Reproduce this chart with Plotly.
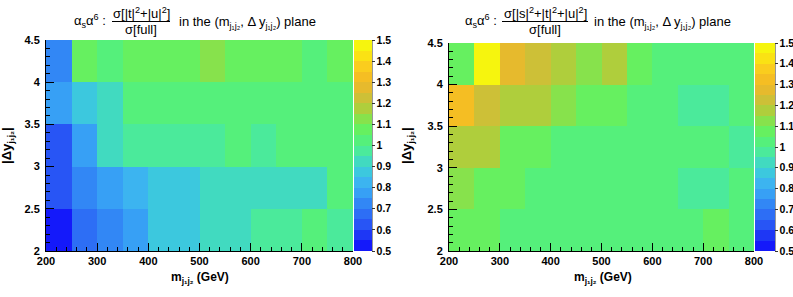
import plotly.graph_objects as go

# ---------------- data ----------------
mjj_edges = [200, 250, 300, 350, 400, 450, 500, 550, 600, 650, 700, 750, 800]
dy_edges = [2.0, 2.5, 3.0, 3.5, 4.0, 4.5]

# rows: |dy| bins from 2-2.5 (bottom) to 4-4.5 (top); columns: mjj bins 200..800
ratio_tu = [
    [0.52, 0.67, 0.72, 0.78, 0.87, 0.87, 0.92, 0.92, 0.97, 0.97, 1.04, 0.97],
    [0.62, 0.72, 0.78, 0.83, 0.88, 0.88, 0.93, 0.93, 0.93, 0.93, 0.93, 1.02],
    [0.64, 0.78, 0.93, 0.97, 0.97, 0.97, 0.97, 1.02, 0.97, 1.02, 1.02, 1.02],
    [0.78, 0.87, 0.93, 1.02, 1.02, 1.02, 1.02, 1.02, 1.02, 1.02, 1.02, 1.02],
    [0.72, 1.07, 1.02, 1.07, 1.07, 1.07, 1.12, 1.07, 1.07, 1.07, 1.02, 1.07],
]
ratio_stu = [
    [1.08, 1.08, 1.03, 1.03, 1.03, 1.03, 1.03, 1.03, 1.03, 1.03, 1.08, 1.03],
    [1.13, 1.08, 1.08, 1.03, 1.03, 1.03, 1.03, 1.03, 1.03, 0.98, 0.98, 1.03],
    [1.18, 1.18, 1.09, 1.09, 1.03, 1.03, 1.03, 1.03, 1.03, 1.03, 1.03, 0.98],
    [1.33, 1.23, 1.18, 1.18, 1.12, 1.09, 1.09, 1.03, 1.03, 0.98, 0.98, 1.03],
    [1.09, 1.47, 1.28, 1.23, 1.18, 1.12, 1.18, 1.09, 1.03, 1.03, 1.03, 1.03],
]
x_ticks = [200, 300, 400, 500, 600, 700, 800]
y_ticks = [2, 2.5, 3, 3.5, 4, 4.5]
z_ticks = [0.5, 0.6, 0.7, 0.8, 0.9, 1.0, 1.1, 1.2, 1.3, 1.4, 1.5]

# ---------------- palette (20 discrete bands, 0.5 -> 1.5) ----------------
palette = [
    (20, 25, 250), (30, 55, 245), (40, 85, 245), (45, 110, 245), (50, 135, 245),
    (55, 160, 245), (60, 180, 240), (60, 200, 222), (65, 218, 192), (75, 234, 155),
    (85, 240, 123), (102, 240, 96), (135, 226, 76), (175, 206, 60), (205, 192, 55),
    (230, 186, 45), (245, 190, 35), (250, 205, 30), (250, 226, 20), (246, 245, 14),
]
cs = []
n = len(palette)
for i, c in enumerate(palette):
    col = "rgb(%d,%d,%d)" % c
    cs.append([i / n, col])
    cs.append([(i + 1) / n, col])

W, H = 793, 297
def X(px):
    return px / W
def Y(py):
    return 1 - py / H

FONT = "Liberation Sans"
BOLD = "Liberation Sans, Arial, sans-serif"

panels = [
    dict(z=ratio_tu, xd=(46, 353), yd=(40, 251), cb_x=354, cb_th=18,
         num="σ[|t|<sup>2</sup>+|u|<sup>2</sup>]", pre_x=72, frac_c=141, frac_l=(112, 170), post_x=177,
         xt_c=200, yt_x=7),
    dict(z=ratio_stu, xd=(449, 754), yd=(43, 251), cb_x=755, cb_th=20,
         num="σ[|s|<sup>2</sup>+|t|<sup>2</sup>+|u|<sup>2</sup>]", pre_x=463, frac_c=545, frac_l=(502, 588), post_x=592,
         xt_c=603, yt_x=407),
]

fig = go.Figure()
annotations = []
shapes = []
for k, p in enumerate(panels):
    xa = "x" if k == 0 else "x2"
    ya = "y" if k == 0 else "y2"
    fig.add_trace(go.Heatmap(
        x=mjj_edges, y=dy_edges, z=p["z"], xaxis=xa, yaxis=ya,
        zmin=0.5, zmax=1.5, colorscale=cs, hoverinfo="skip",
        colorbar=dict(
            x=X(p["cb_x"]), xanchor="left", xpad=0, ypad=0,
            y=(Y(p["yd"][0]) + Y(p["yd"][1])) / 2, yanchor="middle",
            len=(p["yd"][1] - p["yd"][0]) / H, lenmode="fraction",
            thickness=p["cb_th"], thicknessmode="pixels",
            outlinewidth=0, tickmode="array", tickvals=z_ticks,
            ticktext=[("%g" % v) for v in z_ticks],
            ticks="outside", ticklen=3, tickwidth=1, tickcolor="#333",
            tickfont=dict(family=BOLD, size=10.5, color="black", weight="bold"),
        ),
    ))
    ax = dict(
        domain=[X(p["xd"][0]), X(p["xd"][1])], range=[200, 800], automargin=False,
        tickmode="array", tickvals=x_ticks, ticks="inside", ticklen=8,
        tickcolor="black", tickwidth=1, showline=True, linecolor="black", linewidth=1,
        showgrid=False, zeroline=False, mirror=False,
        tickfont=dict(family=BOLD, size=11, color="black", weight="bold"),
        minor=dict(dtick=20, tick0=200, ticks="inside", ticklen=4, tickcolor="black", showgrid=False),
        anchor=ya,
    )
    ay = dict(
        domain=[Y(p["yd"][1]), Y(p["yd"][0])], range=[2, 4.5], automargin=False,
        tickmode="array", tickvals=y_ticks, ticks="inside", ticklen=8,
        tickcolor="black", tickwidth=1, showline=True, linecolor="black", linewidth=1,
        showgrid=False, zeroline=False, mirror=False,
        tickfont=dict(family=BOLD, size=11, color="black", weight="bold"),
        minor=dict(dtick=0.1, tick0=2, ticks="inside", ticklen=4, tickcolor="black", showgrid=False),
        anchor=xa, ticklabelstandoff=3,
    )
    if k == 0:
        fig.update_layout(xaxis=ax, yaxis=ay)
    else:
        fig.update_layout(xaxis2=ax, yaxis2=ay)

    # palette axis line
    shapes.append(dict(type="line", xref="paper", yref="paper",
                       x0=X(p["cb_x"] + p["cb_th"]), x1=X(p["cb_x"] + p["cb_th"]),
                       y0=Y(p["yd"][1]), y1=Y(p["yd"][0]), line=dict(color="#333", width=1)))

    tf = dict(family=FONT, size=13, color="black")
    annotations += [
        dict(text="α<sub>s</sub>α<sup>6</sup> :", x=X(p["pre_x"]), y=Y(21), xanchor="left", yanchor="middle", font=tf),
        dict(text=p["num"], x=X(p["frac_c"]), y=Y(13), xanchor="center", yanchor="middle", font=tf),
        dict(text="σ[full]", x=X(p["frac_c"]), y=Y(29), xanchor="center", yanchor="middle", font=tf),
        dict(text="in the (m<sub>j₁j₂</sub>, Δ y<sub>j₁j₂</sub>) plane", x=X(p["post_x"]), y=Y(23),
             xanchor="left", yanchor="middle", font=tf),
        dict(text="m<sub>j₁j₂</sub> (GeV)", x=X(p["xt_c"]), y=Y(278), xanchor="center", yanchor="middle",
             font=dict(family=BOLD, size=12, color="black", weight="bold")),
        dict(text="|Δy<sub>j₁j₂</sub>|", x=X(p["yt_x"]), y=Y(146), xanchor="center", yanchor="middle",
             textangle=-90, font=dict(family=BOLD, size=13, color="black", weight="bold")),
    ]
    shapes.append(dict(type="line", xref="paper", yref="paper",
                       x0=X(p["frac_l"][0]), x1=X(p["frac_l"][1]), y0=Y(21.5), y1=Y(21.5),
                       line=dict(color="black", width=1)))

for a in annotations:
    a.update(xref="paper", yref="paper", showarrow=False)

fig.update_layout(
    width=W, height=H, margin=dict(l=0, r=0, t=0, b=0, autoexpand=False),
    paper_bgcolor="white", plot_bgcolor="white",
    annotations=annotations, shapes=shapes, showlegend=False,
)
fig.write_html(
    "out.html",
    config={"displayModeBar": False, "staticPlot": True},
    post_script="document.body.style.margin='0';document.body.style.padding='0';document.body.style.overflow='hidden';",
)
